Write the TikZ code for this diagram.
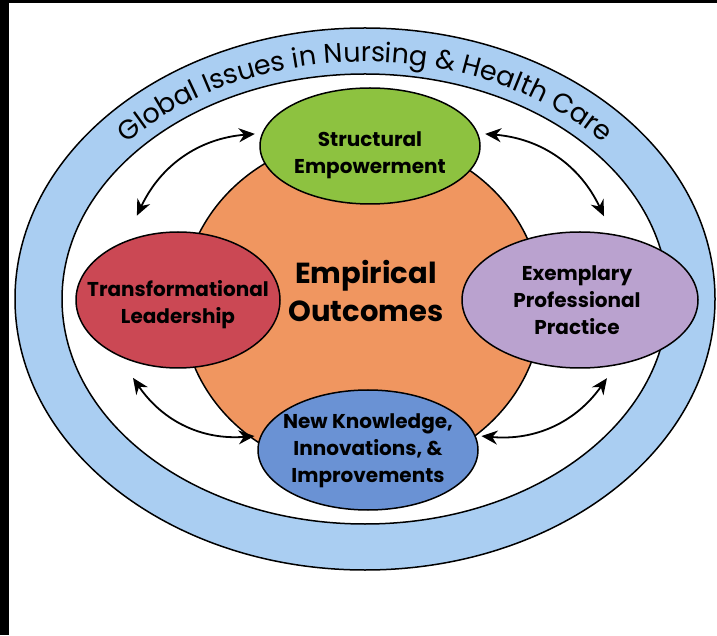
\documentclass[tikz,border=0pt]{standalone}
\usepackage{fontspec}
\setmainfont{Poppins}
\usetikzlibrary{shapes.geometric,arrows.meta,decorations.text,calc}
\definecolor{bandblue}{RGB}{170,206,242}
\definecolor{orng}{RGB}{240,150,96}
\definecolor{grn}{RGB}{141,194,64}
\definecolor{rd}{RGB}{203,72,84}
\definecolor{prp}{RGB}{186,162,207}
\definecolor{blu}{RGB}{106,146,212}
\tikzset{
  pillar/.style={ellipse, draw=black, line width=1.5pt, inner sep=0pt},
  ptext/.style={inner sep=0pt, align=center, font=\bfseries\fontsize{20}{27}\selectfont},
  arr/.style={{Stealth[length=16pt,width=14pt]}-{Stealth[length=16pt,width=14pt]}, line width=1.8pt},
}
\begin{document}
\begin{tikzpicture}[x=1pt,y=1pt]
\useasboundingbox (0,0) rectangle (717,635);
\fill[white] (0,0) rectangle (717,635);
\fill[black] (0,0) rectangle (9,635);
\fill[black] (0,632) rectangle (717,635);
% rings
\draw[fill=bandblue, line width=1.5pt] (365,336) ellipse [x radius=350, y radius=271];
\draw[fill=white, line width=1.5pt] (365,336) ellipse [x radius=303, y radius=225];
\path[decorate, decoration={text along path, text align=center,
  text={|\fontsize{27}{27}\selectfont|Global Issues in Nursing {\&} Health Care}}]
  (49,336) arc[start angle=180, end angle=0, x radius=316, y radius=237];
% center
\node[pillar, fill=orng, minimum width=360pt, minimum height=336pt] (emp) at (362,330) {};
\node[inner sep=0pt, align=center, font=\bfseries\fontsize{29}{38}\selectfont] (empt) at (366,344)
  {Empirical\\Outcomes};
% pillars
\node[pillar, fill=grn, minimum width=220pt, minimum height=116pt] (se) at (370,489) {};
\node[ptext] (set) at (370,480) {Structural\\Empowerment};
\node[pillar, fill=rd, minimum width=204pt, minimum height=136pt] (tl) at (178,335) {};
\node[ptext] (tlt) at (178,330) {Transformational\\Leadership};
\node[pillar, fill=prp, minimum width=236pt, minimum height=136pt] (ep) at (580,335) {};
\node[ptext] (ept) at (577,335) {Exemplary\\Professional\\Practice};
\node[pillar, fill=blu, minimum width=220pt, minimum height=120pt] (nk) at (368,185) {};
\node[ptext] (nkt) at (368,184) {New Knowledge,\\Innovations, \&\\Improvements};
% arrows
\draw[arr] ($(tl.center)!1.29!(tl.116)$) to[bend left=30] ($(se.center)!1.06!(se.174)$);
\draw[arr] ($(se.center)!1.06!(se.6)$) to[bend left=30] ($(ep.center)!1.235!(ep.74)$);
\draw[arr] ($(nk.center)!1.05!(nk.173)$) to[bend left=30] ($(tl.center)!1.215!(tl.240)$);
\draw[arr] ($(ep.center)!1.16!(ep.289)$) to[bend left=30] ($(nk.center)!1.05!(nk.7)$);
\end{tikzpicture}
\end{document}
